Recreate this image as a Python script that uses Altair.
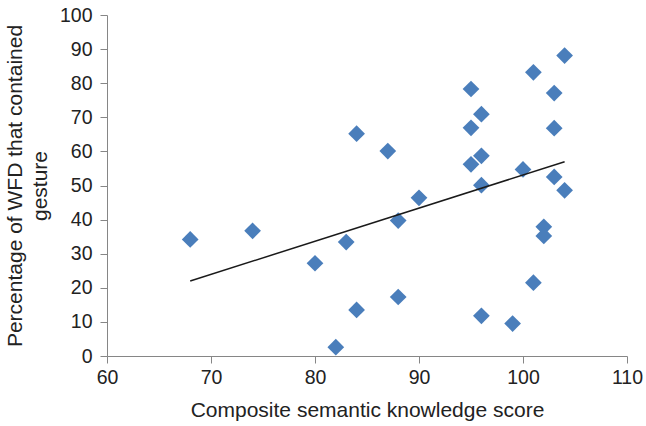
import altair as alt
import pandas as pd

score = [68, 74, 80, 82, 83, 84, 84, 87, 88, 88, 90, 95, 95, 95, 96, 96, 96, 96,
         99, 100, 101, 101, 102, 102, 103, 103, 103, 104, 104]
pct = [34.2, 36.7, 27.2, 2.6, 33.4, 65.2, 13.5, 60.1, 39.7, 17.3, 46.4, 78.3, 66.9, 56.2,
       70.9, 58.7, 50.1, 11.8, 9.5, 54.7, 83.2, 21.5, 37.9, 35.2, 77.1, 66.8, 52.5, 88.1, 48.6]
x_ticks = [60, 70, 80, 90, 100, 110]
y_ticks = [0, 10, 20, 30, 40, 50, 60, 70, 80, 90, 100]

df = pd.DataFrame({"score": score, "pct": pct})

font = "Liberation Sans"
xscale = alt.Scale(domain=[60, 110], nice=False, zero=False)
yscale = alt.Scale(domain=[0, 100], nice=False)

xaxis = alt.Axis(values=x_ticks, tickCount=6, title="Composite semantic knowledge score",
                 grid=False, domainColor="#868686", tickColor="#868686", tickSize=7,
                 labelFont=font, labelFontSize=19.5, labelColor="#222222", labelPadding=5,
                 titleFont=font, titleFontSize=21, titleColor="#222222", titleFontWeight="normal",
                 titleY=60, titleBaseline="alphabetic", labelFlush=False, labelOverlap=False)
yaxis = alt.Axis(values=y_ticks, tickCount=11, title=["Percentage of WFD that contained", "gesture"],
                 grid=False, domainColor="#868686", tickColor="#868686", tickSize=7,
                 labelFont=font, labelFontSize=19.5, labelColor="#222222", labelPadding=8,
                 titleFont=font, titleFontSize=21, titleColor="#222222", titleFontWeight="normal",
                 titleX=-85.5, titleY=170.5, titleAngle=270, titleAlign="center",
                 titleBaseline="alphabetic", titleLineHeight=25, labelFlush=False, labelOverlap=False)

base = alt.Chart(df)
pts = base.mark_point(shape="diamond", filled=True, size=280, color="#4A7EBB", opacity=1).encode(
    x=alt.X("score:Q", scale=xscale, axis=xaxis),
    y=alt.Y("pct:Q", scale=yscale, axis=yaxis),
)
line = base.transform_regression("score", "pct", extent=[68, 104]).mark_line(
    color="#1a1a1a", strokeWidth=1.5).encode(
    x=alt.X("score:Q", scale=xscale, axis=xaxis),
    y=alt.Y("pct:Q", scale=yscale, axis=yaxis),
)

chart = alt.layer(pts, line).properties(
    width=520, height=341, autosize="none",
    padding={"left": 107, "top": 15, "right": 19, "bottom": 70},
).configure_view(stroke=None)

chart.save("out.html", embed_options={"renderer": "svg", "actions": False})
